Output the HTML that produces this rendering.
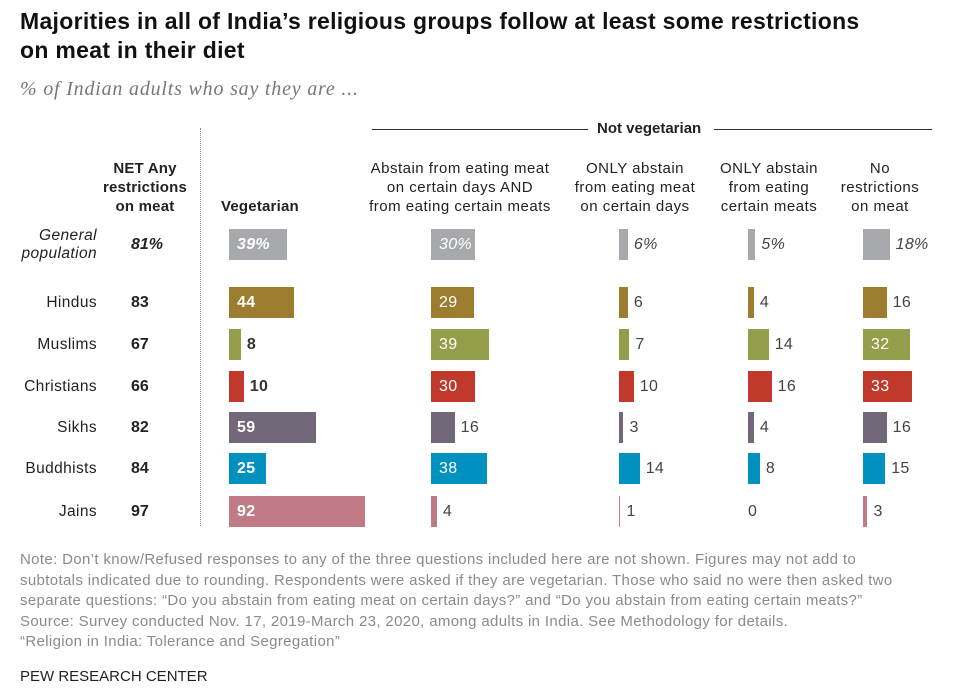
<!DOCTYPE html>
<html><head><meta charset="utf-8"><style>
body{margin:0;background:#fff;font-family:"Liberation Sans",sans-serif;color:#222}
#root{position:relative;width:960px;height:696px;overflow:hidden}
.t{position:absolute;white-space:nowrap}
.h{font-size:15px;line-height:19px;letter-spacing:0.5px}
</style></head><body><div id="root">
<div class="t" style="left:20px;top:7px;font-size:23px;letter-spacing:0.3px;font-weight:bold;line-height:29px;color:#111">Majorities in all of India’s religious groups follow at least some restrictions<br>on meat in their diet</div>
<div class="t" style="left:20px;top:78px;font-size:20px;letter-spacing:0.8px;font-style:italic;font-family:'Liberation Serif',serif;color:#777">% of Indian adults who say they are ...</div>
<div style="position:absolute;left:372px;top:129px;width:216px;border-top:1px solid #333"></div>
<div style="position:absolute;left:714px;top:129px;width:218px;border-top:1px solid #333"></div>
<div class="t" style="left:597px;top:120px;font-size:15px;font-weight:bold">Not vegetarian</div>
<div style="position:absolute;left:200px;top:128px;height:398px;border-left:1px dotted #888"></div>
<div class="t h" style="left:90px;top:159px;width:110px;text-align:center;font-weight:bold;letter-spacing:0.2px">NET Any<br>restrictions<br>on meat</div>
<div class="t h" style="left:221px;top:197px;font-weight:bold;letter-spacing:0.2px">Vegetarian</div>
<div class="t h" style="left:350px;top:159px;width:220px;text-align:center">Abstain from eating meat<br>on certain days AND<br>from eating certain meats</div>
<div class="t h" style="left:565px;top:159px;width:140px;text-align:center">ONLY abstain<br>from eating meat<br>on certain days</div>
<div class="t h" style="left:705px;top:159px;width:128px;text-align:center">ONLY abstain<br>from eating<br>certain meats</div>
<div class="t h" style="left:827px;top:159px;width:106px;text-align:center">No<br>restrictions<br>on meat</div>
<div class="t" style="left:20px;top:550px;font-size:15px;letter-spacing:0.35px;line-height:20.5px;color:#8a8a8a">Note: Don’t know/Refused responses to any of the three questions included here are not shown. Figures may not add to<br>subtotals indicated due to rounding. Respondents were asked if they are vegetarian. Those who said no were then asked two<br>separate questions: “Do you abstain from eating meat on certain days?” and “Do you abstain from eating certain meats?”<br>Source: Survey conducted Nov. 17, 2019-March 23, 2020, among adults in India. See Methodology for details.<br>“Religion in India: Tolerance and Segregation”</div>
<div class="t" style="left:20px;top:668px;font-size:15px;color:#222">PEW RESEARCH CENTER</div>
</div>
<script>
const groups=["General population","Hindus","Muslims","Christians","Sikhs","Buddhists","Jains"];
const net=[81,83,67,66,82,84,97];
const vegetarian=[39,44,8,10,59,25,92];
const bothRestrict=[30,29,39,30,16,38,4];
const onlyDays=[6,6,7,10,3,14,1];
const onlyMeats=[5,4,14,16,4,8,0];
const noRestrict=[18,16,32,33,16,15,3];
const colors=["#a7a9ac","#9c7c2f","#949d4a","#c0392b","#73677a","#0091c0","#c07a85"];
const root=document.getElementById('root');
const cols=[vegetarian,bothRestrict,onlyDays,onlyMeats,noRestrict];
const colX=[229,431,619,748,863];
const rowY=[244,302,344,386,427,468,511];
const scale=1.48;
function add(html,style){const d=document.createElement('div');d.className='t';d.innerHTML=html;d.setAttribute('style',style);root.appendChild(d);return d;}
groups.forEach((g,i)=>{
 const y=rowY[i];const gen=i===0;
 const lab=add(gen?'General<br>population':g,`right:863px;top:${y-(gen?17:8)}px;text-align:right;font-size:15.5px;letter-spacing:0.4px;line-height:18px;${gen?'font-style:italic;':''}`);
 
 
 const n=add(net[i]+(gen?'%':''),`left:131px;top:${y-8}px;font-size:16px;line-height:18px;font-weight:bold;${gen?'font-style:italic;':''}`);
 
 
 cols.forEach((arr,c)=>{
  const v=arr[i];const w=v*scale;
  const b=document.createElement('div');
  b.setAttribute('style',`position:absolute;left:${colX[c]}px;top:${y-15}px;width:${w}px;height:31px;background:${colors[i]}`);
  
  
  root.appendChild(b);
  const inside=v>=20;const bold=c===0;
  const txt=v+(gen?'%':'');
  const lx=inside?colX[c]+8:colX[c]+w+(v===0?0:6);
  const col=inside?'#fff':(bold?'#333':'#444');
  const l=add(txt,`left:${lx}px;top:${y-8}px;line-height:18px;font-size:16px;letter-spacing:0.3px;color:${col};${bold?'font-weight:bold;':''}${gen?'font-style:italic;':''}`);
  
  
 });
});
</script>
</body></html>
